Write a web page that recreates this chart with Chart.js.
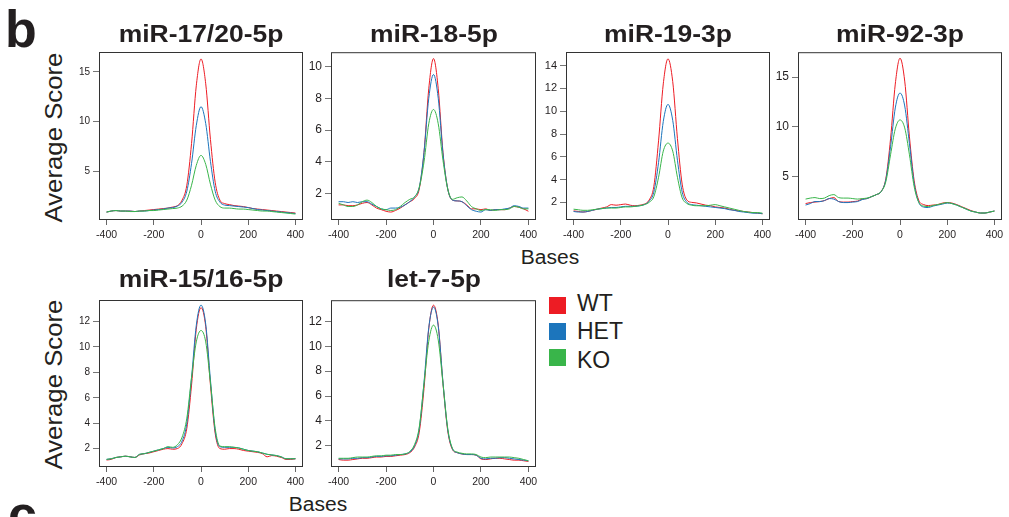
<!DOCTYPE html>
<html>
<head>
<meta charset="utf-8">
<title>Average score profiles</title>
<script src="https://cdn.jsdelivr.net/npm/chart.js@4"></script>
<style>
  body {
    margin: 0;
    width: 1009px;
    height: 517px;
    overflow: hidden;
    background: #fff;
    position: relative;
    font-family: 'Liberation Sans', Arial, sans-serif;
    color: #231f20;
  }
  canvas { position: absolute; }
  .txt { position: absolute; white-space: nowrap; line-height: 1; }
  .title { font-weight: bold; font-size: 23px; width: 300px; text-align: center; transform: scaleX(1.15); }
  .ylab { font-size: 23px; width: 240px; text-align: center; transform: rotate(-90deg) scaleX(1.12); }
  .xlab { font-size: 20px; width: 100px; text-align: center; transform: scaleX(1.05); }
  .letter { font-weight: bold; font-size: 52px; }
  .key { position: absolute; width: 17px; height: 17px; }
  .keytxt { font-size: 23px; }
</style>
</head>
<body>
<div class="txt letter" style="left:5px; top:3px;">b</div>
<div class="txt letter" style="left:8px; top:488px;">c</div>
<div class="txt ylab" style="left:-66px; top:126px;">Average Score</div>
<div class="txt ylab" style="left:-66px; top:373px;">Average Score</div>
<div class="txt xlab" style="left:500px; top:247px;">Bases</div>
<div class="txt xlab" style="left:268px; top:494px;">Bases</div>
<div id="legend"></div>

<script>
  const bases = [
    -400, -380, -360, -340, -320, -300, -280, -260, -240, -220,
    -200, -180, -160, -140, -120, -100, -80, -60, -40, -20,
    0,
    20, 40, 60, 80, 100, 120, 140, 160, 180, 200,
    220, 240, 260, 280, 300, 320, 340, 360, 380, 400,
  ];
  const xTicks = [-400, -200, 0, 200, 400];
  const groups = ['WT', 'HET', 'KO'];
  const groupColors = ['#ED1C24', '#1C75BC', '#39B54A'];

  // miR-17/20-5p
  const miR17WT = [0.9, 1.0, 1.05, 1.0, 1.0, 1.0, 0.95, 1.0, 1.05, 1.1, 1.15, 1.2, 1.25, 1.3, 1.4, 1.55, 2.1, 3.6, 7.8, 13.6, 16.3, 13.8, 8.2, 3.9, 2.1, 1.75, 1.65, 1.55, 1.5, 1.45, 1.35, 1.25, 1.2, 1.15, 1.1, 1.05, 1.0, 0.95, 0.9, 0.85, 0.8];
  const miR17HET = [0.9, 1.0, 1.05, 1.0, 1.0, 1.0, 0.95, 1.0, 1.0, 1.05, 1.1, 1.15, 1.2, 1.3, 1.35, 1.5, 1.9, 3.0, 5.8, 9.6, 11.5, 9.8, 6.0, 3.0, 1.9, 1.6, 1.55, 1.5, 1.45, 1.4, 1.35, 1.25, 1.15, 1.1, 1.05, 1.0, 0.95, 0.9, 0.85, 0.8, 0.75];
  const miR17KO = [0.9, 1.0, 1.05, 1.0, 1.0, 0.95, 0.95, 1.0, 1.0, 1.05, 1.05, 1.1, 1.15, 1.2, 1.25, 1.3, 1.5, 2.1, 3.6, 5.6, 6.6, 5.7, 3.7, 2.1, 1.45, 1.3, 1.3, 1.25, 1.2, 1.2, 1.15, 1.1, 1.05, 1.0, 1.0, 0.95, 0.9, 0.85, 0.8, 0.75, 0.7];

  // miR-18-5p
  const miR18WT = [1.3, 1.3, 1.25, 1.25, 1.3, 1.4, 1.45, 1.3, 1.1, 1.0, 0.9, 0.85, 0.95, 1.1, 1.3, 1.5, 1.7, 2.3, 4.6, 8.6, 10.5, 8.6, 4.6, 2.3, 1.6, 1.55, 1.5, 1.3, 1.05, 1.05, 1.0, 1.05, 0.95, 1.0, 1.0, 1.0, 1.1, 1.2, 1.15, 1.05, 0.9];
  const miR18HET = [1.5, 1.5, 1.45, 1.5, 1.45, 1.5, 1.5, 1.35, 1.2, 1.05, 1.0, 1.1, 1.1, 1.15, 1.3, 1.5, 1.8, 2.4, 4.6, 8.0, 9.5, 8.0, 4.5, 2.3, 1.6, 1.55, 1.5, 1.25, 1.0, 0.9, 0.85, 1.0, 0.95, 1.0, 1.0, 1.05, 1.1, 1.25, 1.2, 1.1, 1.1];
  const miR18KO = [1.4, 1.3, 1.2, 1.2, 1.3, 1.5, 1.6, 1.45, 1.2, 1.05, 1.0, 0.95, 1.0, 1.2, 1.45, 1.65, 1.8, 2.4, 4.0, 6.4, 7.3, 6.4, 4.1, 2.3, 1.65, 1.75, 1.8, 1.55, 1.2, 1.05, 0.95, 1.0, 1.0, 0.95, 1.0, 1.0, 1.05, 1.2, 1.15, 1.05, 1.05];

  // miR-19-3p
  const miR19WT = [1.25, 1.2, 1.15, 1.2, 1.3, 1.4, 1.5, 1.6, 1.8, 1.75, 1.8, 1.85, 1.75, 1.7, 1.75, 1.85, 2.2, 3.4, 7.4, 12.4, 14.6, 12.6, 7.6, 3.6, 2.2, 2.0, 1.95, 1.85, 1.75, 1.7, 1.6, 1.55, 1.5, 1.4, 1.3, 1.25, 1.2, 1.15, 1.1, 1.05, 1.0];
  const miR19HET = [1.2, 1.15, 1.15, 1.2, 1.3, 1.4, 1.45, 1.5, 1.55, 1.55, 1.6, 1.65, 1.65, 1.65, 1.7, 1.8, 2.1, 2.9, 5.5, 9.1, 10.6, 9.2, 5.7, 2.9, 2.0, 1.8, 1.75, 1.7, 1.65, 1.6, 1.55, 1.5, 1.45, 1.35, 1.3, 1.2, 1.15, 1.1, 1.05, 1.05, 1.0];
  const miR19KO = [1.4, 1.35, 1.3, 1.3, 1.35, 1.4, 1.45, 1.5, 1.5, 1.5, 1.55, 1.6, 1.6, 1.65, 1.7, 1.8, 2.0, 2.5, 4.2, 6.5, 7.2, 6.5, 4.2, 2.4, 1.9, 1.75, 1.7, 1.7, 1.7, 1.75, 1.8, 1.7, 1.6, 1.5, 1.4, 1.3, 1.2, 1.15, 1.1, 1.1, 1.05];

  // miR-92-3p
  const miR92WT = [2.3, 2.4, 2.45, 2.5, 2.6, 2.8, 2.9, 2.5, 2.45, 2.45, 2.5, 2.55, 2.75, 2.8, 3.0, 3.2, 3.5, 4.8, 8.8, 14.3, 16.9, 14.6, 9.0, 4.6, 2.6, 2.2, 2.1, 2.15, 2.2, 2.35, 2.4, 2.35, 2.2, 2.0, 1.8, 1.6, 1.45, 1.35, 1.35, 1.45, 1.55];
  const miR92HET = [2.15, 2.3, 2.5, 2.5, 2.6, 2.8, 2.75, 2.5, 2.4, 2.4, 2.45, 2.5, 2.7, 2.8, 3.0, 3.2, 3.5, 4.7, 8.0, 11.9, 13.4, 12.1, 8.3, 4.3, 2.4, 1.95, 1.9, 2.05, 2.15, 2.25, 2.35, 2.3, 2.15, 1.95, 1.75, 1.55, 1.45, 1.35, 1.35, 1.45, 1.55];
  const miR92KO = [2.75, 2.85, 2.9, 2.8, 2.85, 3.1, 3.2, 2.9, 2.85, 2.85, 2.8, 2.75, 2.8, 2.85, 3.0, 3.2, 3.5, 4.5, 7.2, 9.8, 10.7, 9.9, 7.2, 4.0, 2.4, 2.05, 2.0, 2.1, 2.2, 2.3, 2.4, 2.3, 2.15, 1.95, 1.75, 1.55, 1.45, 1.35, 1.35, 1.45, 1.55];

  // miR-15/16-5p
  const miR15WT = [1.1, 1.15, 1.3, 1.35, 1.4, 1.35, 1.3, 1.5, 1.6, 1.65, 1.75, 1.85, 1.95, 2.0, 1.95, 2.0, 2.4, 3.6, 7.0, 11.4, 13.1, 11.6, 7.0, 3.2, 2.0, 1.95, 2.0, 2.0, 1.95, 1.85, 1.8, 1.75, 1.7, 1.6, 1.35, 1.45, 1.4, 1.3, 1.15, 1.15, 1.2];
  const miR15HET = [1.15, 1.2, 1.3, 1.35, 1.4, 1.35, 1.3, 1.55, 1.6, 1.7, 1.8, 1.9, 2.0, 2.1, 2.05, 2.15, 2.6, 4.0, 7.6, 11.7, 13.3, 11.8, 7.4, 3.4, 2.15, 2.1, 2.1, 2.1, 2.05, 1.95, 1.85, 1.8, 1.75, 1.65, 1.55, 1.5, 1.45, 1.35, 1.2, 1.2, 1.2];
  const miR15KO = [1.15, 1.2, 1.3, 1.35, 1.4, 1.35, 1.3, 1.55, 1.6, 1.7, 1.8, 1.9, 2.0, 2.15, 2.1, 2.3, 2.9, 4.4, 7.6, 10.4, 11.3, 10.4, 7.2, 3.6, 2.2, 2.15, 2.15, 2.1, 2.05, 1.95, 1.85, 1.8, 1.75, 1.65, 1.55, 1.5, 1.45, 1.35, 1.2, 1.2, 1.2];

  // let-7-5p
  const let7WT = [0.9, 0.85, 0.85, 0.9, 0.95, 1.0, 1.0, 1.05, 1.1, 1.1, 1.15, 1.15, 1.2, 1.25, 1.3, 1.45, 1.9, 3.1, 6.6, 11.4, 13.3, 11.7, 7.0, 3.2, 1.7, 1.45, 1.35, 1.3, 1.3, 1.25, 0.95, 0.9, 0.95, 1.0, 1.0, 0.95, 0.9, 0.85, 0.85, 0.8, 0.75];
  const let7HET = [0.95, 0.95, 0.95, 1.0, 1.0, 1.05, 1.05, 1.1, 1.15, 1.15, 1.2, 1.2, 1.25, 1.3, 1.35, 1.5, 2.0, 3.4, 7.1, 11.5, 13.15, 11.6, 7.1, 3.3, 1.75, 1.45, 1.35, 1.3, 1.3, 1.25, 1.0, 0.95, 1.0, 1.0, 1.05, 1.05, 1.0, 0.95, 0.9, 0.85, 0.8];
  const let7KO = [1.0, 1.0, 1.0, 1.05, 1.1, 1.1, 1.1, 1.15, 1.2, 1.2, 1.25, 1.25, 1.3, 1.3, 1.35, 1.55, 2.1, 3.5, 7.0, 10.4, 11.7, 10.5, 7.0, 3.4, 1.8, 1.5, 1.4, 1.35, 1.35, 1.3, 1.1, 1.05, 1.1, 1.1, 1.1, 1.1, 1.1, 1.05, 1.0, 0.9, 0.8];

  const titles = ['miR-17/20-5p', 'miR-18-5p', 'miR-19-3p', 'miR-92-3p', 'miR-15/16-5p', 'let-7-5p'];
  const yTicks = [
    [5, 10, 15],
    [2, 4, 6, 8, 10],
    [2, 4, 6, 8, 10, 12, 14],
    [5, 10, 15],
    [2, 4, 6, 8, 10, 12],
    [2, 4, 6, 8, 10, 12],
  ];
  const yRanges = [[0.1, 17.0], [0.35, 10.9], [0.45, 15.2], [0.65, 17.5], [0.55, 13.7], [0.3, 13.7]];
  const series = [
    [miR17WT, miR17HET, miR17KO],
    [miR18WT, miR18HET, miR18KO],
    [miR19WT, miR19HET, miR19KO],
    [miR92WT, miR92HET, miR92KO],
    [miR15WT, miR15HET, miR15KO],
    [let7WT, let7HET, let7KO],
  ];

  // plot boxes in page pixels: left, top, width, height
  const boxes = [
    [99, 52, 204, 168],
    [331, 52, 205, 168],
    [566, 52, 204, 168],
    [798, 52, 204, 168],
    [99, 300, 204, 167],
    [331, 300, 205, 167],
  ];
  const tickFontSizes = [10, 12, 11, 12, 10, 12];
  const titleBaselines = [42, 42, 42, 42, 287, 287];

  const FONT = "'Liberation Sans', Arial, sans-serif";
  const AXIS_W = 45, AXIS_H = 30, PAD_TOP = 10, PAD_RIGHT = 10;

  const frame = {
    id: 'frame',
    afterDraw(chart) {
      const { ctx, chartArea: a } = chart;
      ctx.save();
      ctx.strokeStyle = '#333';
      ctx.lineWidth = 1;
      ctx.strokeRect(a.left + 0.5, a.top + 0.5, a.width - 1, a.height - 1);
      ctx.restore();
    },
  };

  boxes.forEach(([left, top, w, h], i) => {
    const canvas = document.createElement('canvas');
    canvas.width = w + AXIS_W + PAD_RIGHT;
    canvas.height = h + PAD_TOP + AXIS_H;
    canvas.style.left = left - AXIS_W + 'px';
    canvas.style.top = top - PAD_TOP + 'px';
    document.body.appendChild(canvas);

    const title = document.createElement('div');
    title.className = 'txt title';
    title.textContent = titles[i];
    title.style.left = left + w / 2 - 150 + 'px';
    title.style.top = titleBaselines[i] - 0.8465 * 23 + 'px';
    document.body.appendChild(title);

    new Chart(canvas, {
      type: 'line',
      data: {
        datasets: series[i].map((vals, k) => ({
          label: groups[k],
          data: bases.map((b, j) => ({ x: b, y: vals[j] })),
          borderColor: groupColors[k],
          borderWidth: 1,
          pointRadius: 0,
          cubicInterpolationMode: 'monotone',
          order: 2 - k,
        })),
      },
      options: {
        responsive: false,
        animation: false,
        events: [],
        layout: { padding: { top: PAD_TOP, right: PAD_RIGHT, left: 0, bottom: 0 } },
        plugins: { legend: { display: false }, tooltip: { enabled: false } },
        scales: {
          x: {
            type: 'linear',
            min: -432,
            max: 432,
            afterBuildTicks: (s) => { s.ticks = xTicks.map((v) => ({ value: v })); },
            afterFit: (s) => { s.height = AXIS_H; },
            grid: { drawOnChartArea: false, tickLength: 5, color: '#666' },
            border: { display: false },
            ticks: {
              autoSkip: false,
              maxRotation: 0,
              padding: 4,
              color: '#231f20',
              font: { family: FONT, size: 10.5 },
              callback: (v) => String(v),
            },
          },
          y: {
            type: 'linear',
            min: yRanges[i][0],
            max: yRanges[i][1],
            afterBuildTicks: (s) => { s.ticks = yTicks[i].map((v) => ({ value: v })); },
            afterFit: (s) => { s.width = AXIS_W; },
            grid: { drawOnChartArea: false, tickLength: 6, color: '#777' },
            border: { display: false },
            ticks: {
              autoSkip: false,
              padding: 3,
              color: '#231f20',
              font: { family: FONT, size: tickFontSizes[i] },
              callback: (v) => String(v),
            },
          },
        },
      },
      plugins: [frame],
    });
  });

  // legend
  const legend = document.getElementById('legend');
  const keyTops = [297, 323, 349];
  const keyBaselines = [311, 339.5, 368];
  groups.forEach((g, k) => {
    const sw = document.createElement('div');
    sw.className = 'key';
    sw.style.left = '549px';
    sw.style.top = keyTops[k] + 'px';
    sw.style.background = groupColors[k];
    legend.appendChild(sw);
    const t = document.createElement('div');
    t.className = 'txt keytxt';
    t.textContent = g;
    t.style.left = '577px';
    t.style.top = keyBaselines[k] - 0.8465 * 23 + 'px';
    legend.appendChild(t);
  });
</script>
</body>
</html>
